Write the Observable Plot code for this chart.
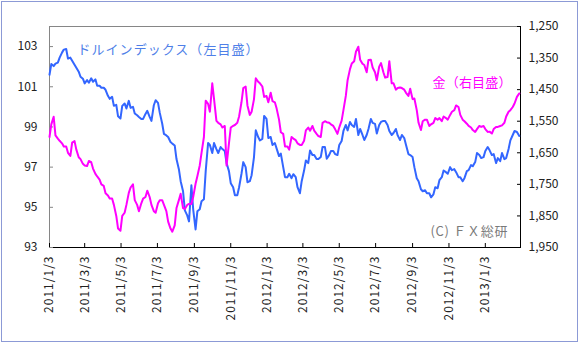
<!DOCTYPE html>
<html><head><meta charset="utf-8">
<script src="https://cdn.jsdelivr.net/npm/d3@7"></script>
<script src="https://cdn.jsdelivr.net/npm/@observablehq/plot@0.6"></script>
<style>
body{margin:0;background:#fff;}
#wrap{position:relative;width:579px;height:344px;overflow:hidden;}
#border{position:absolute;left:1px;top:1px;width:575px;height:339px;border:1px solid #8c9ad6;pointer-events:none;}
</style></head><body><div id="wrap"><div id="border"></div></div>
<script>
// Monday readings
const mondayDates = [
"2011-01-03","2011-01-10","2011-01-17","2011-01-24","2011-01-31","2011-02-07","2011-02-14","2011-02-21","2011-02-28","2011-03-07",
"2011-03-14","2011-03-21","2011-03-28","2011-04-04","2011-04-11","2011-04-18","2011-04-25","2011-05-02","2011-05-09","2011-05-16",
"2011-05-23","2011-05-30","2011-06-06","2011-06-13","2011-06-20","2011-06-27","2011-07-04","2011-07-11","2011-07-18","2011-07-25",
"2011-08-01","2011-08-08","2011-08-15","2011-08-22","2011-08-29","2011-09-05","2011-09-12","2011-09-19","2011-09-26","2011-10-03",
"2011-10-10","2011-10-17","2011-10-24","2011-10-31","2011-11-07","2011-11-14","2011-11-21","2011-11-28","2011-12-05","2011-12-12",
"2011-12-19","2011-12-26","2012-01-02","2012-01-09","2012-01-16","2012-01-23","2012-01-30","2012-02-06","2012-02-13","2012-02-20",
"2012-02-27","2012-03-05","2012-03-12","2012-03-19","2012-03-26","2012-04-02","2012-04-09","2012-04-16","2012-04-23","2012-04-30",
"2012-05-07","2012-05-14","2012-05-21","2012-05-28","2012-06-04","2012-06-11","2012-06-18","2012-06-25","2012-07-02","2012-07-09",
"2012-07-16","2012-07-23","2012-07-30","2012-08-06","2012-08-13","2012-08-20","2012-08-27","2012-09-03","2012-09-10","2012-09-17",
"2012-09-24","2012-10-01","2012-10-08","2012-10-15","2012-10-22","2012-10-29","2012-11-05","2012-11-12","2012-11-19","2012-11-26",
"2012-12-03","2012-12-10","2012-12-17","2012-12-24","2012-12-31","2013-01-07","2013-01-14","2013-01-21","2013-01-28","2013-02-04",
"2013-02-11","2013-02-18","2013-02-25","2013-03-01"];

const mondayDollar = [
101.6,102.03,102.2,102.7,102.88,102.45,102.1,101.75,101.4,101.33,
101.42,101.37,101.05,100.95,100.55,100.5,100.1,99.42,100.17,100.3,
100.0,99.58,99.4,99.65,99.5,100.08,100.2,99.17,98.58,98.25,
98.08,96.9,95.8,94.6,96.1,93.9,94.9,95.4,98.2,97.7,
97.9,98.0,97.8,96.8,96.0,95.6,96.67,97.0,96.3,97.5,
98.5,98.4,99.4,98.5,98.2,97.55,97.0,96.5,96.45,96.5,
95.7,96.83,97.2,97.6,97.4,97.5,98.0,97.6,97.8,97.6,
98.3,99.1,99.25,99.0,98.6,98.6,98.6,99.4,99.15,99.1,
99.3,99.1,98.6,98.9,98.35,98.45,97.65,97.5,96.45,95.9,
95.85,95.7,95.65,95.95,96.5,96.75,97.0,96.9,96.5,96.3,
96.8,97.1,97.25,97.6,97.5,98.0,97.6,97.2,97.3,97.4,
97.9,98.6,98.75,98.55];

const mondayGold = [
1600,1536,1605,1620,1630,1660,1613,1664,1685,1692,
1680,1717,1735,1755,1785,1795,1850,1897,1840,1777,
1750,1815,1810,1790,1790,1835,1810,1800,1835,1890,
1880,1800,1825,1815,1812,1748,1690,1600,1495,1430,
1549,1560,1565,1620,1565,1555,1490,1440,1530,1480,
1425,1440,1470,1460,1490,1545,1590,1630,1600,1610,
1625,1612,1570,1565,1590,1600,1550,1555,1565,1590,
1548,1470,1385,1360,1314,1368,1395,1355,1395,1377,
1395,1410,1430,1450,1443,1450,1470,1480,1515,1578,
1545,1565,1555,1545,1550,1540,1530,1515,1505,1545,
1558,1570,1584,1565,1565,1584,1589,1568,1565,1555,
1520,1505,1473,1462];

// Thursday readings
const thursdayDates = [
"2011-01-06","2011-01-13","2011-01-20","2011-01-27","2011-02-03","2011-02-10","2011-02-17","2011-02-24","2011-03-03","2011-03-10",
"2011-03-17","2011-03-24","2011-03-31","2011-04-07","2011-04-14","2011-04-21","2011-04-28","2011-05-05","2011-05-12","2011-05-19",
"2011-05-26","2011-06-02","2011-06-09","2011-06-16","2011-06-23","2011-06-30","2011-07-07","2011-07-14","2011-07-21","2011-07-28",
"2011-08-04","2011-08-11","2011-08-18","2011-08-25","2011-09-01","2011-09-08","2011-09-15","2011-09-22","2011-09-29","2011-10-06",
"2011-10-13","2011-10-20","2011-10-27","2011-11-03","2011-11-10","2011-11-17","2011-11-24","2011-12-01","2011-12-08","2011-12-15",
"2011-12-22","2011-12-29","2012-01-05","2012-01-12","2012-01-19","2012-01-26","2012-02-02","2012-02-09","2012-02-16","2012-02-23",
"2012-03-01","2012-03-08","2012-03-15","2012-03-22","2012-03-29","2012-04-05","2012-04-12","2012-04-19","2012-04-26","2012-05-03",
"2012-05-10","2012-05-17","2012-05-24","2012-05-31","2012-06-07","2012-06-14","2012-06-21","2012-06-28","2012-07-05","2012-07-12",
"2012-07-19","2012-07-26","2012-08-02","2012-08-09","2012-08-16","2012-08-23","2012-08-30","2012-09-06","2012-09-13","2012-09-20",
"2012-09-27","2012-10-04","2012-10-11","2012-10-18","2012-10-25","2012-11-01","2012-11-08","2012-11-15","2012-11-22","2012-11-29",
"2012-12-06","2012-12-13","2012-12-20","2012-12-27","2013-01-03","2013-01-10","2013-01-17","2013-01-24","2013-01-31","2013-02-07",
"2013-02-14","2013-02-21"];

const thursdayDollar = [
102.13,102.15,102.45,102.85,102.4,102.3,101.95,101.5,101.17,101.2,
101.25,101.05,100.95,100.85,100.4,100.05,99.53,100.05,99.92,99.95,
99.67,99.5,99.4,99.8,99.3,100.33,99.7,98.65,98.5,98.17,
97.4,96.3,94.85,94.3,94.9,94.8,95.3,96.8,98.1,98.2,
97.7,97.9,97.2,96.2,95.6,96.0,97.25,96.25,96.6,98.83,
98.33,99.55,98.45,98.1,97.92,97.67,96.5,96.67,96.65,96.0,
96.3,97.33,97.83,97.6,97.4,98.0,97.42,97.8,97.65,98.1,
98.8,98.83,99.1,99.4,98.9,98.35,98.9,99.2,98.67,99.25,
99.3,98.8,98.7,98.58,98.6,98.1,97.6,97.0,96.3,95.8,
95.7,95.5,96.0,96.35,96.83,96.67,96.85,96.75,96.5,96.45,
96.85,97.05,97.7,97.45,97.8,97.85,97.65,97.45,97.7,97.45,
98.33,98.8];

const thursdayGold = [
1560,1595,1612,1630,1650,1618,1640,1670,1690,1676,
1700,1725,1750,1778,1795,1815,1890,1850,1815,1760,
1800,1835,1795,1770,1815,1840,1800,1815,1868,1900,
1825,1780,1828,1812,1790,1724,1650,1485,1520,1480,
1555,1570,1690,1570,1562,1535,1445,1500,1520,1414,
1430,1473,1490,1486,1510,1585,1630,1640,1605,1620,
1625,1579,1580,1580,1597,1555,1553,1560,1575,1570,
1515,1420,1367,1330,1355,1372,1356,1380,1420,1366,
1412,1360,1430,1445,1445,1460,1447,1478,1555,1550,
1545,1560,1540,1540,1535,1545,1520,1500,1530,1550,
1565,1578,1575,1568,1575,1583,1575,1568,1563,1535,
1515,1494];

const leftTicks = [93, 95, 97, 99, 101, 103];
const goldTicks = [1250, 1350, 1450, 1550, 1650, 1750, 1850, 1950];
const xTicks = ["2011-01-03","2011-03-03","2011-05-03","2011-07-03","2011-09-03","2011-11-03",
"2012-01-03","2012-03-03","2012-05-03","2012-07-03","2012-09-03","2012-11-03","2013-01-03"];
const xDomain = ["2011-01-03", "2013-03-03"];
const leftDomain = [93, 104];
const goldDomain = [1950, 1250];

const toLeft = g => leftDomain[0] + (goldDomain[0] - g) / (goldDomain[0] - goldDomain[1]) * (leftDomain[1] - leftDomain[0]);
const toGold = v => Math.round(goldDomain[0] - (v - leftDomain[0]) / (leftDomain[1] - leftDomain[0]) * (goldDomain[0] - goldDomain[1]));

const rows = [
  ...mondayDates.map((d, i) => ({date: new Date(d), dollar: mondayDollar[i], gold: mondayGold[i]})),
  ...thursdayDates.map((d, i) => ({date: new Date(d), dollar: thursdayDollar[i], gold: thursdayGold[i]}))
].sort((a, b) => a.date - b.date);

const xd = xDomain.map(d => new Date(d));
const xt = xTicks.map(d => new Date(d));
const fmtDate = d => `${d.getUTCFullYear()}/${d.getUTCMonth() + 1}/${d.getUTCDate()}`;
const fmtGold = d3.format(",");
const font = "'Noto Sans CJK JP', 'Noto Sans', sans-serif";

const labelDollar = "ドルインデックス（左目盛）";
const labelGold = "金（右目盛）";
const labelCopy = "(C) ＦＸ総研";

const chart = Plot.plot({
  width: 579, height: 344,
  marginLeft: 49, marginRight: 59, marginTop: 26, marginBottom: 97,
  style: {fontFamily: font, fontSize: "12px", color: "#222", background: "transparent", overflow: "visible"},
  x: {type: "utc", domain: xd},
  y: {domain: leftDomain},
  marks: [
    Plot.ruleY([leftDomain[1]], {stroke: "#868686", strokeWidth: 1}),
    Plot.ruleX([xd[0]], {stroke: "#868686", strokeWidth: 1}),
    Plot.ruleX([xd[1]], {stroke: "#000", strokeWidth: 1}),
    Plot.ruleY([leftDomain[0]], {stroke: "#000", strokeWidth: 1}),
    // left axis
    Plot.axisY({ticks: leftTicks, tickSize: 0, tickPadding: 12, label: null, fill: "#222"}),
    Plot.axisY({ticks: leftTicks, tickSize: 4, dx: 4, tickFormat: () => "", label: null, stroke: "#868686"}),
    // right axis (gold, inverted)
    Plot.axisY({anchor: "right", ticks: goldTicks.map(toLeft), tickSize: 0, tickPadding: 8, label: null,
      tickFormat: v => fmtGold(toGold(v)), fill: "#222"}),
    Plot.axisY({anchor: "right", ticks: goldTicks.map(toLeft), tickSize: 4, dx: -4, tickFormat: () => "", label: null, stroke: "#000"}),
    // bottom axis
    Plot.axisX({ticks: xt, tickSize: 0, tickPadding: 8, tickRotate: -90, tickFormat: fmtDate, label: null, fill: "#222"}),
    Plot.axisX({ticks: xt, tickSize: 4, dy: -4, tickFormat: () => "", label: null, stroke: "#000"}),
    // series
    Plot.line(rows, {x: "date", y: "dollar", stroke: "#3366ff", strokeWidth: 2}),
    Plot.line(rows, {x: "date", y: d => toLeft(d.gold), stroke: "#ff00ff", strokeWidth: 2}),
    // annotations
    Plot.text([labelDollar], {frameAnchor: "top-left", textAnchor: "start", lineAnchor: "top",
      dx: 28, dy: 18, fill: "#4f7fe8", fontSize: 13}),
    Plot.text([labelGold], {frameAnchor: "top-right", textAnchor: "end", lineAnchor: "top",
      dx: -9, dy: 51, fill: "#ff00ff", fontSize: 13}),
    Plot.text([labelCopy], {frameAnchor: "bottom-right", textAnchor: "end", lineAnchor: "bottom",
      dx: -13, dy: -12, fill: "#7a7a7a", fontSize: 13})
  ]
});

// text widths matching the original's spaced lettering
const widths = {[labelDollar]: 181, [labelGold]: 79, [labelCopy]: 77};
d3.select(chart).selectAll("text").each(function() {
  const w = widths[this.textContent];
  if (w) { this.setAttribute("textLength", w); this.setAttribute("lengthAdjust", "spacing"); }
});
d3.select(chart).selectAll('g[aria-label="x-axis tick label"] text').style("letter-spacing", "1px");

document.getElementById("wrap").appendChild(chart);
</script>
</body></html>
